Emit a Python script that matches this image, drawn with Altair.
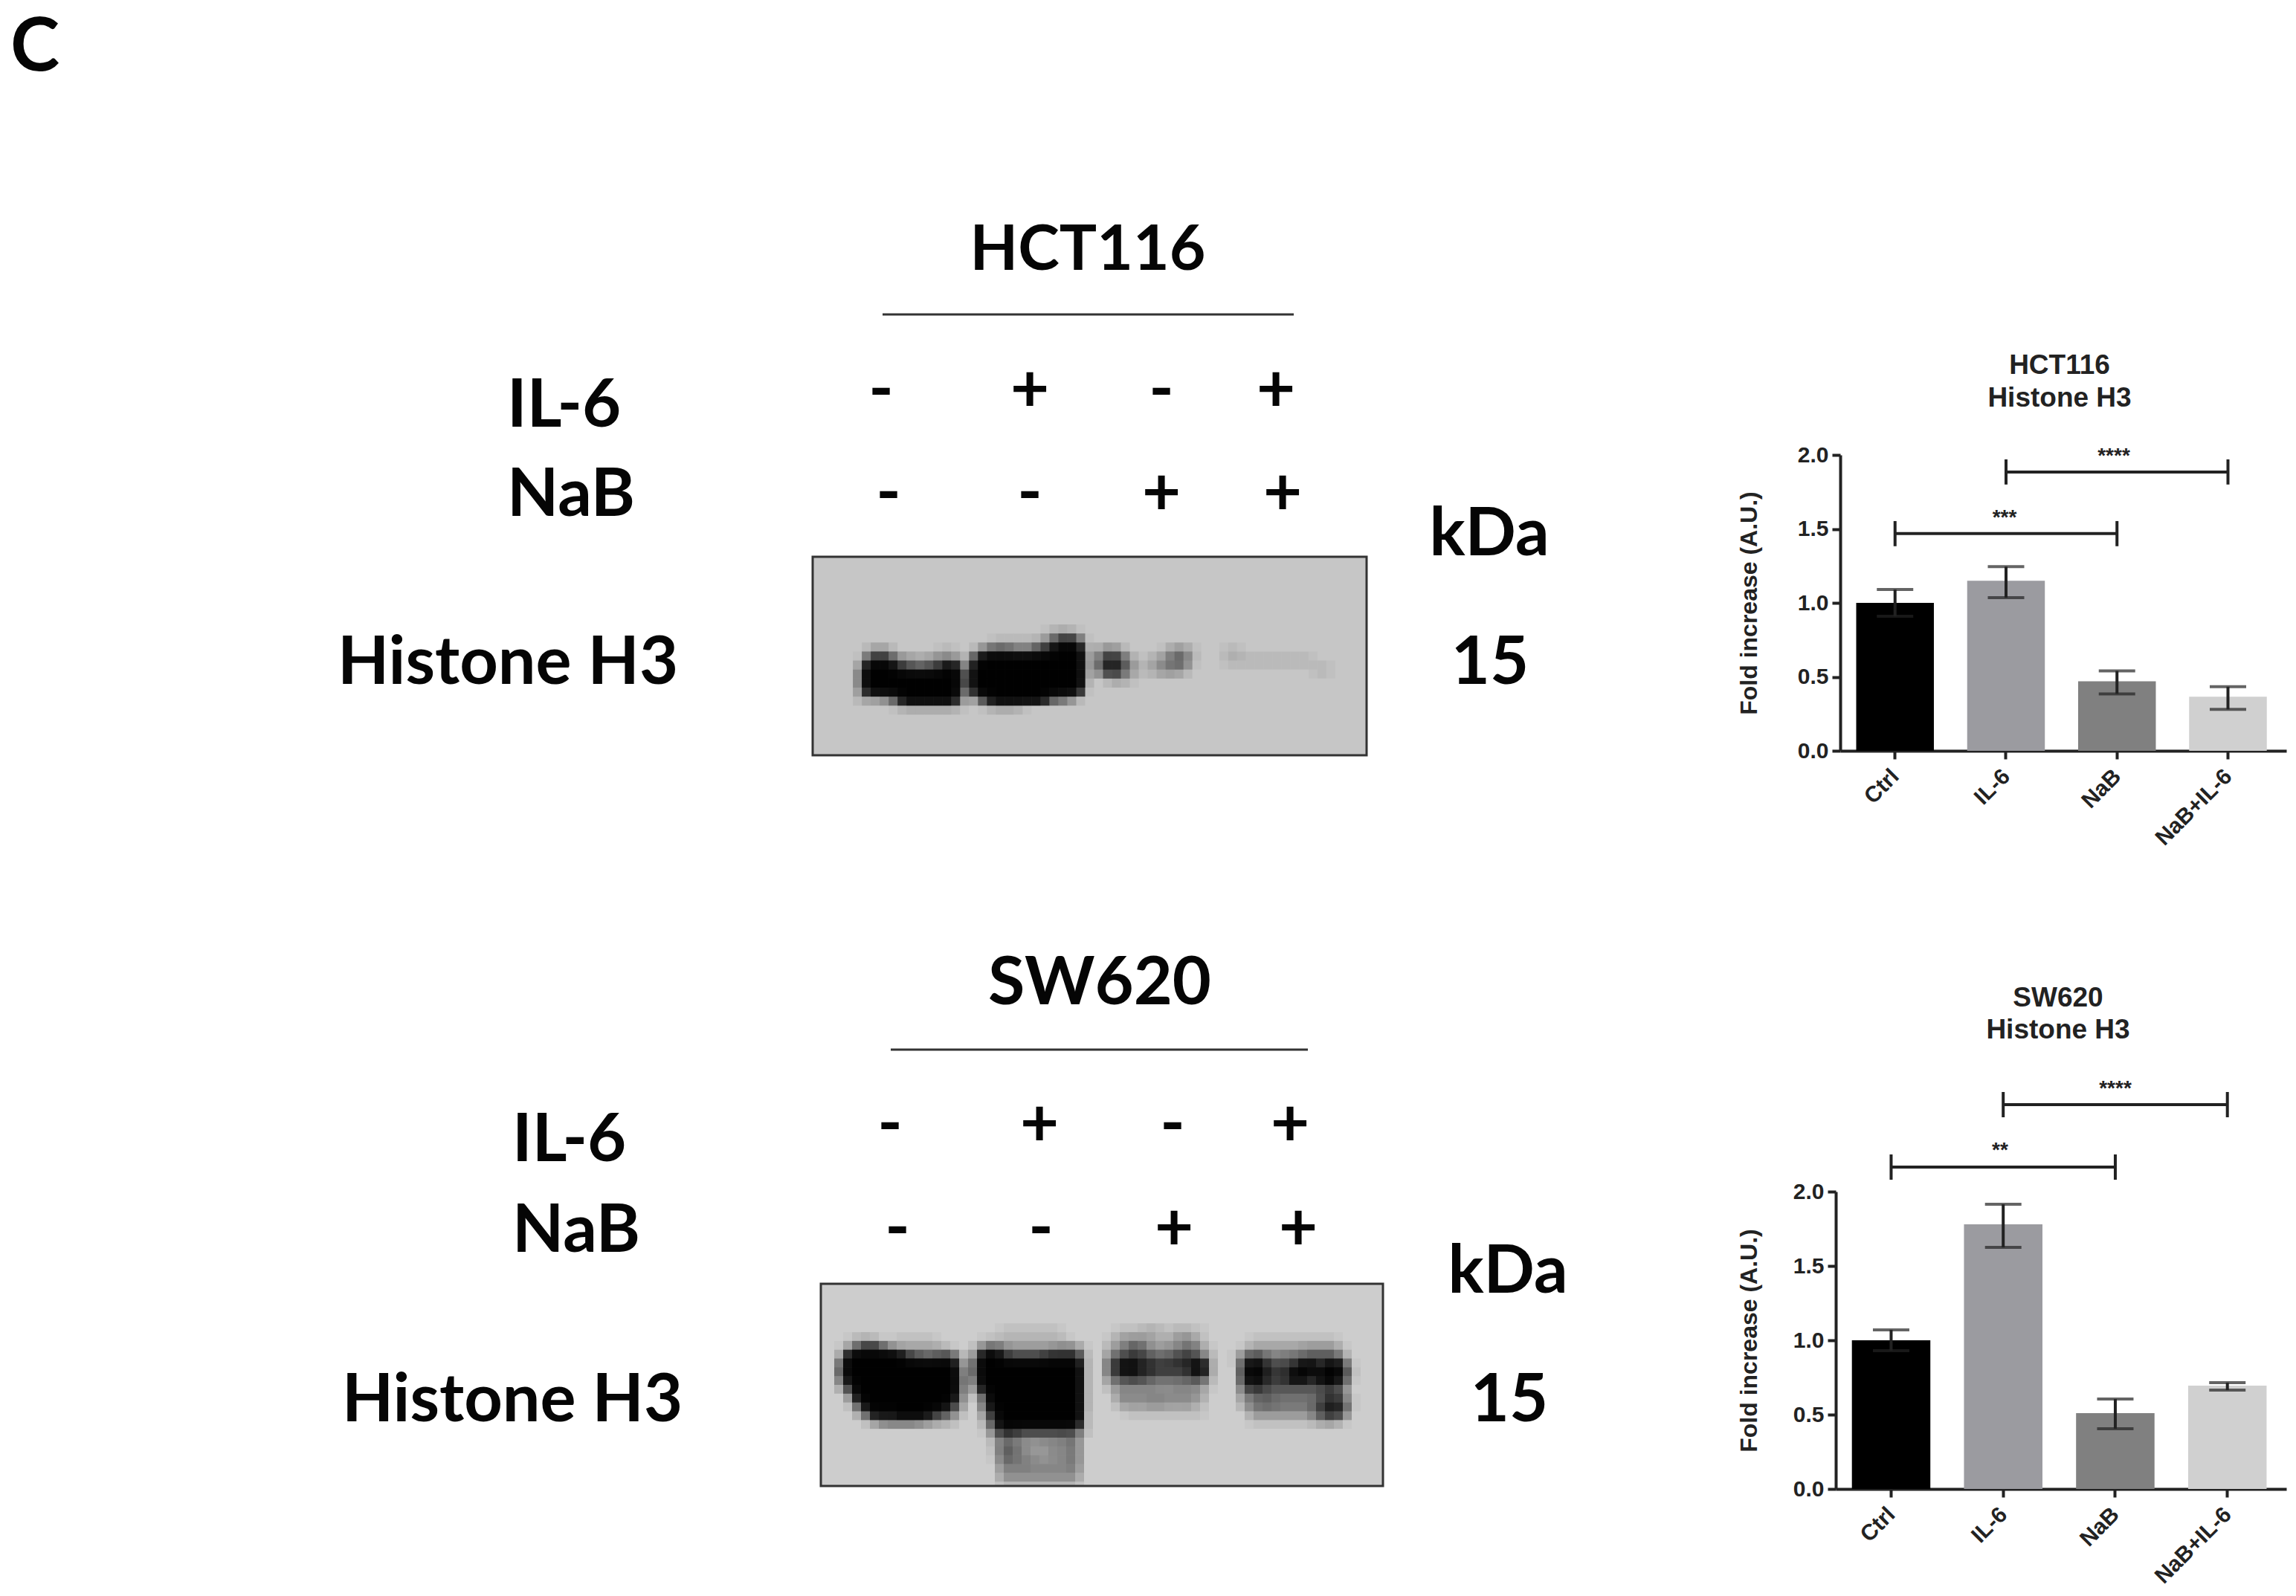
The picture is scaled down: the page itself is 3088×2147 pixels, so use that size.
import altair as alt
import pandas as pd

W, H = 3072, 2131
PAGE = 8  # page margin: picture px minus this gives canvas px

cats = ["Ctrl", "IL-6", "NaB", "NaB+IL-6"]
bar_colors = ["#000000", "#9b9ba0", "#808080", "#d0d0d0"]

hct_means = [1.0, 1.15, 0.47, 0.365]
hct_hi = [1.09, 1.245, 0.54, 0.433]
hct_lo = [0.91, 1.035, 0.385, 0.28]
hct_from = ["IL-6", "Ctrl"]
hct_to = ["NaB+IL-6", "NaB"]
hct_brk = [1.885, 1.468]

sw_means = [1.0, 1.78, 0.51, 0.695]
sw_hi = [1.07, 1.915, 0.605, 0.715]
sw_lo = [0.93, 1.625, 0.405, 0.665]
sw_from = ["IL-6", "Ctrl"]
sw_to = ["NaB+IL-6", "NaB"]
sw_brk = [2.585, 2.165]

blot_hct = """
0
0
0
0
0
0
0
0
0000000000 0000000000 0000001221
0000000000 0000000000 1111124787 1
0000002320 0000110025 6654578999 2134200001 3310001100
0000017874 3223442189 9999999999 3168630123 5510001111 111111
0000049998 7667896199 9999999999 3168631123 3200000000 0000001100
0000059999 9999998199 9999999999 2002210000
0000049999 9999997199 9999999999 1
0000023357 9999995058 9999997652
0000000001 2222221001 2221
0
0
0
0
0
"""

blot_sw = """
0
0
0
0
0
0000000000 0000000000 1111111000 0001112211 2110000000
0001221011 1110000011 1111111100 0012332112 3310000011 1111111100
0014787532 2222100256 4333334441 0023564333 4531000122 2222333310
0049999998 7667730599 8777788882 0046776556 7752001576 4455666630
0079999999 9999950799 9999999992 0068988777 7893000798 7678988971
0069999999 9999960699 9999999992 0046776555 5672000798 7689889971
0048999999 9999960599 9999999992 0023333323 3321000687 6666667750
0005999999 9999950269 9999999992 0003333333 3330000345 4444445630
0002799999 9999840069 9999999992 0002323332 3210000345 5444457861
0000479899 9987520048 9999999992 0000111111 1110000033 3333357860
0000024555 5432200027 9999999991 0000000000 0000000011 1111123310
0000000000 0000000015 8877777762
0000000000 0000000002 4433333440
0000000000 0000000001 5432233340
0000000000 0000000001 5533223340
0000000000 0000000000 4343333340
0000000000 0000000000 3333333330
0000000000 0000000000 2222222220
"""

SANS = "Lato"
ARIAL = "Liberation Sans"


def px_x(v):
    return v - PAGE


def px_y(v):
    return v - PAGE


def label(text, x, y, size=90, font=SANS, align="center", color="#050505"):
    dy = 5 if font == SANS else 2
    return (
        alt.Chart(pd.DataFrame({"t": [text]}))
        .mark_text(font=font, fontWeight="bold", fontSize=size, align=align, baseline="middle", color=color)
        .encode(text="t:N", x=alt.value(px_x(x)), y=alt.value(px_y(y + dy)))
    )


def hline(x0, x1, y):
    return (
        alt.Chart(pd.DataFrame({"t": [0]}))
        .mark_rule(color="#333333", strokeWidth=3)
        .encode(x=alt.value(px_x(x0)), x2=alt.value(px_x(x1)), y=alt.value(px_y(y)))
    )


def blot(rows_text, ncol, x0, x1, y0, y1, bg):
    rows = [r.replace(" ", "") for r in rows_text.strip().split("\n")]
    nrow = len(rows)
    recs = []
    for j, r in enumerate(rows):
        for i, ch in enumerate(r):
            if ch != "0":
                # Each reading is drawn as a translucent patch twice the cell's size,
                # so neighbouring cells overlap and the band edges stay soft.
                through = max(1 - int(ch) / 9, 0.01)
                recs.append({
                    "c": max(i - 0.5, 0), "c2": min(i + 1.5, ncol),
                    "r": max(j - 0.5, 0), "r2": min(j + 1.5, nrow),
                    "a": 1 - through ** 0.25,
                })
    df = pd.DataFrame(recs)
    frame = pd.DataFrame({"t": [0]})
    enc = dict(
        x=alt.value(px_x(x0)), x2=alt.value(px_x(x1)), y=alt.value(px_y(y0)), y2=alt.value(px_y(y1))
    )
    back = alt.Chart(frame).mark_rect(fill=bg).encode(**enc)
    cells = (
        alt.Chart(df)
        .mark_rect(color="#000000")
        .encode(
            x=alt.X("c:Q", axis=None, scale=alt.Scale(domain=[0, ncol], range=[px_x(x0), px_x(x1)])),
            x2="c2:Q",
            y=alt.Y("r:Q", axis=None, scale=alt.Scale(domain=[0, nrow], range=[px_y(y0), px_y(y1)])),
            y2="r2:Q",
            opacity=alt.Opacity("a:Q", scale=None, legend=None),
        )
    )
    edge = alt.Chart(frame).mark_rect(fill="transparent", stroke="#333333", strokeWidth=3).encode(**enc)
    return [back, cells, edge]


def bars(means, hi, lo, b_from, b_to, b_y, x0, x1, y_top, y_bot, title_pad):
    df = pd.DataFrame({"cat": cats, "m": means, "hi": hi, "lo": lo})
    xs = alt.Scale(domain=cats, range=[px_x(x0), px_x(x1)], paddingInner=0.3, paddingOuter=0.16, align=0.45)
    ys = alt.Scale(domain=[0, 2], range=[px_y(y_bot), px_y(y_top)], nice=False)
    x_axis = alt.Axis(
        orient="bottom", offset=px_y(y_bot) - H, title=None, labelAngle=-45, labelFont=ARIAL, labelFontWeight="bold",
        labelFontSize=30, labelColor="#222222", tickColor="#222222", domainColor="#222222", tickWidth=4,
        domainWidth=4, tickSize=11, labelPadding=8, labelOffset=-10, grid=False,
    )
    y_axis = alt.Axis(
        orient="left", offset=-px_x(x0), title="Fold increase (A.U.)", values=[0, 0.5, 1, 1.5, 2], format=".1f",
        labelFont=ARIAL, labelFontWeight="bold", labelFontSize=30, labelColor="#222222", tickColor="#222222",
        domainColor="#222222", tickWidth=4, domainWidth=4, tickSize=11, labelPadding=5, grid=False,
        titleFont=ARIAL, titleFontWeight="bold", titleFontSize=32, titleColor="#222222", titlePadding=title_pad,
    )
    x = alt.X("cat:N", scale=xs, axis=x_axis, sort=cats)
    y = alt.Y("m:Q", scale=ys, axis=y_axis)
    base = alt.Chart(df)
    bar = base.mark_bar(cornerRadius=0).encode(
        x=x, y=y, color=alt.Color("cat:N", scale=alt.Scale(domain=cats, range=bar_colors), legend=None)
    )
    err = base.mark_rule(color="#222222", strokeWidth=4).encode(x=x, y="lo:Q", y2="hi:Q")
    cap_hi = base.mark_tick(color="#222222", size=49, thickness=4).encode(x=x, y="hi:Q")
    cap_lo = base.mark_tick(color="#222222", size=49, thickness=4).encode(x=x, y="lo:Q")
    bdf = pd.DataFrame({"a": b_from, "b": b_to, "y": b_y, "lo": [v - 0.085 for v in b_y], "hi": [v + 0.085 for v in b_y]})
    bb = alt.Chart(bdf)
    span = bb.mark_rule(color="#222222", strokeWidth=4).encode(x=alt.X("a:N", scale=xs), x2="b:N", y="y:Q")
    end_a = bb.mark_rule(color="#222222", strokeWidth=4).encode(x=alt.X("a:N", scale=xs), y="lo:Q", y2="hi:Q")
    end_b = bb.mark_rule(color="#222222", strokeWidth=4).encode(x=alt.X("b:N", scale=xs), y="lo:Q", y2="hi:Q")
    return alt.layer(bar, err, cap_hi, cap_lo, span, end_a, end_b)


layers = [
    label("C", 47, 60, size=100),
    # HCT116 blot
    label("HCT116", 1463, 333, size=84),
    hline(1187, 1740, 423),
    label("IL-6", 682, 542, align="left"),
    label("NaB", 682, 662, align="left"),
    label("-", 1185, 522), label("+", 1385, 522), label("-", 1562, 522), label("+", 1716, 522),
    label("-", 1195, 661), label("-", 1385, 661), label("+", 1562, 661), label("+", 1725, 661),
    label("kDa", 2003, 715),
    label("Histone H3", 683, 888),
    label("15", 2004, 888),
    *blot(blot_hct, 62, 1093, 1838, 749, 1016, "#c6c6c6"),
    # SW620 blot
    label("SW620", 1479, 1319),
    hline(1198, 1759, 1412),
    label("IL-6", 689, 1530, align="left"),
    label("NaB", 689, 1652, align="left"),
    label("-", 1197, 1510), label("+", 1398, 1510), label("-", 1577, 1510), label("+", 1735, 1510),
    label("-", 1207, 1650), label("-", 1400, 1650), label("+", 1579, 1650), label("+", 1746, 1650),
    label("kDa", 2028, 1707),
    label("Histone H3", 689, 1880),
    label("15", 2030, 1880),
    *blot(blot_sw, 63, 1104, 1860, 1727, 1999, "#cdcdcd"),
    # bar panels
    bars(hct_means, hct_hi, hct_lo, hct_from, hct_to, hct_brk, 2475, 3075, 612, 1010, 48),
    label("HCT116", 2770, 490, size=37, font=ARIAL, color="#222222"),
    label("Histone H3", 2770, 534, size=37, font=ARIAL, color="#222222"),
    label("****", 2843, 612, size=28, font=ARIAL, color="#222222"),
    label("***", 2696, 695, size=28, font=ARIAL, color="#222222"),
    bars(sw_means, sw_hi, sw_lo, sw_from, sw_to, sw_brk, 2469, 3075, 1603, 2003, 42),
    label("SW620", 2768, 1341, size=37, font=ARIAL, color="#222222"),
    label("Histone H3", 2768, 1384, size=37, font=ARIAL, color="#222222"),
    label("****", 2845, 1463, size=28, font=ARIAL, color="#222222"),
    label("**", 2690, 1546, size=28, font=ARIAL, color="#222222"),
]

chart = (
    alt.layer(*layers)
    .resolve_scale(x="independent", y="independent", color="independent", opacity="independent")
    .resolve_axis(x="independent", y="independent")
    .properties(width=W, height=H, padding=0, autosize=alt.AutoSizeParams(type="none"), background="white")
    .configure_view(stroke=None)
)

chart.save("out.html", embed_options={"renderer": "svg", "actions": False})
